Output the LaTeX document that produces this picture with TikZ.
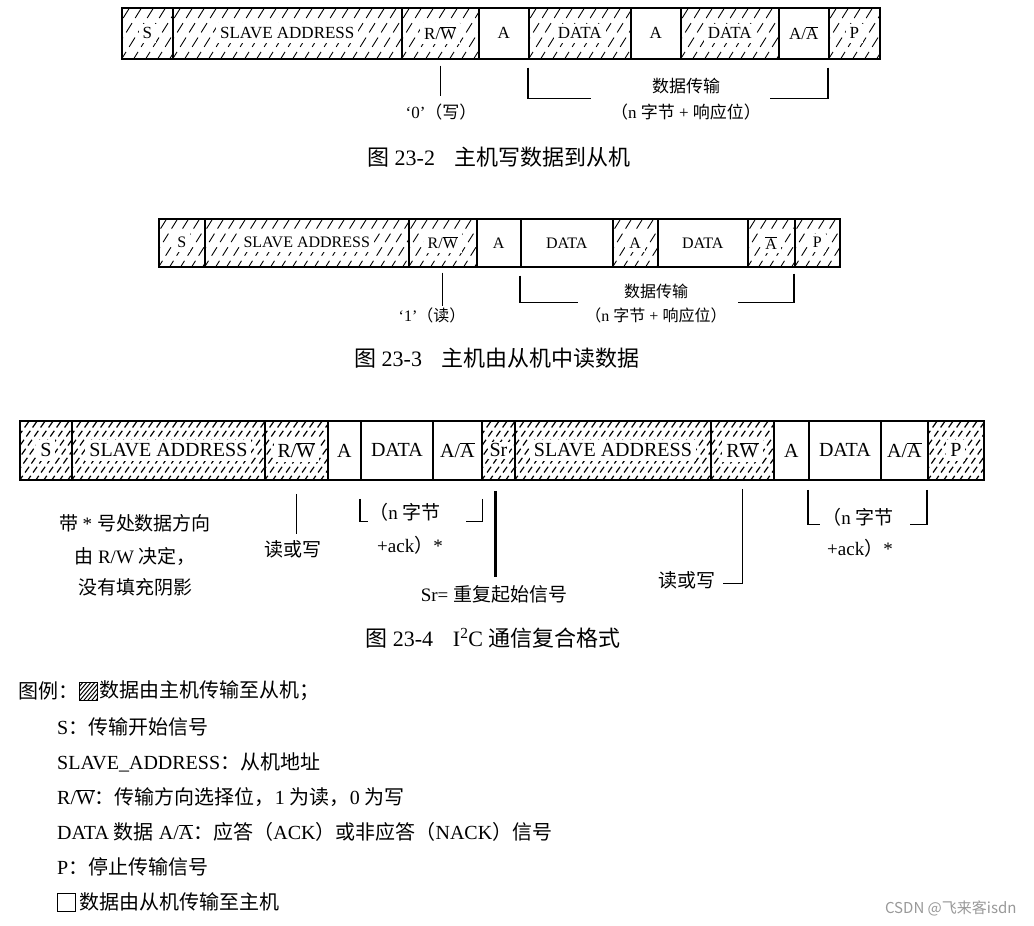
\documentclass[tikz,border=0pt]{standalone}
\usepackage{fontspec}
\setmainfont{Liberation Serif}
\newfontfamily\cjk{Noto Sans CJK SC}
\usetikzlibrary{calc}
\newcommand\zh[1]{{\cjk #1}}
\newcommand\ob[1]{\ensuremath{\overline{\mbox{#1}}}}
\newcommand\lb[1]{{\setlength\fboxsep{4pt}\colorbox{white}{#1}}}
\newcommand\seg[8]{\node[seg,#6,minimum width={(#3-#2)*1pt},minimum height={(#5-#4)*1pt},font=#7] (#1) at (#2,#4) {#8};}
\tikzset{
  seg/.style={draw,inner sep=0pt,anchor=north west},
  hlA/.style={line width=0.9pt,dash pattern=on 11pt off 6pt,dash phase=3pt},
  hlB/.style={line width=0.9pt,dash pattern=on 10pt off 6pt,dash phase=3pt},
  hlC/.style={line width=1.2pt,dash pattern=on 7pt off 4pt,dash phase=2pt},
  hA/.style={line width=1.5pt,path picture={\foreach \k in {-6,...,24}{\draw[hlA] ([xshift=\k*12pt]path picture bounding box.south west) -- ++(58:130pt);}}},
  hB/.style={line width=1.5pt,path picture={\foreach \k in {-6,...,26}{\draw[hlB] ([xshift=\k*11pt]path picture bounding box.south west) -- ++(58:130pt);}}},
  hC/.style={line width=1.8pt,path picture={\foreach \k in {-8,...,30}{\draw[hlC] ([xshift=\k*8pt]path picture bounding box.south west) -- ++(55:130pt);}}},
  hL/.style={line width=1.2pt,path picture={\foreach \k in {-6,...,8}{\draw[line width=1pt] ([xshift=\k*4pt]path picture bounding box.south west) -- ++(50:40pt);}}},
  wA/.style={line width=1.5pt},
  wB/.style={line width=1.5pt},
  wC/.style={line width=1.8pt},
  conn/.style={line width=1.2pt},
  fA/.style={font=\fontsize{17}{17}\selectfont},
  fB/.style={font=\fontsize{16}{16}\selectfont},
  fC/.style={font=\fontsize{19}{19}\selectfont},
  fCap/.style={font=\fontsize{22}{22}\selectfont},
  fL/.style={font=\fontsize{20}{20}\selectfont},
}
\begin{document}
\begin{tikzpicture}[x=1pt,y=-1pt]
\path[fill=white,use as bounding box] (0,0) rectangle (1034,926);
% ---------- Figure 23-2 ----------
\seg{d1s}{121}{172}{7}{58}{hA}{\fontsize{17}{17}\selectfont}{\lb{S}}
\seg{d1sa}{172}{401}{7}{58}{hA}{\fontsize{17}{17}\selectfont}{\lb{SLAVE ADDRESS}}
\seg{d1rw}{401}{478}{7}{58}{hA}{\fontsize{17}{17}\selectfont}{\lb{R/\ob{W}}}
\seg{d1a1}{478}{528}{7}{58}{wA}{\fontsize{17}{17}\selectfont}{A}
\seg{d1d1}{528}{630}{7}{58}{hA}{\fontsize{17}{17}\selectfont}{\lb{DATA}}
\seg{d1a2}{630}{680}{7}{58}{wA}{\fontsize{17}{17}\selectfont}{A}
\seg{d1d2}{680}{778}{7}{58}{hA}{\fontsize{17}{17}\selectfont}{\lb{DATA}}
\seg{d1aa}{778}{828}{7}{58}{wA}{\fontsize{17}{17}\selectfont}{A/\ob{A}}
\seg{d1p}{828}{879}{7}{58}{hA}{\fontsize{17}{17}\selectfont}{\lb{P}}
\draw[conn] ([yshift=-6pt]d1rw.south) -- ([yshift=-36pt]d1rw.south);
\draw[conn] ([yshift=-8pt]d1d1.south west) -- ([yshift=-39pt]d1d1.south west) -- ++(63pt,0);
\draw[conn] ([yshift=-8pt]d1p.south west) -- ([yshift=-39pt]d1p.south west) -- ++(-58pt,0);
\node[fA] (d1t0) at (441,112) {‘0’\zh{（写）}};
\node[fA] (d1t1) at (686,86) {\zh{数据传输}};
\node[fA] (d1t2) at (686,112) {\zh{（}n \zh{字节} + \zh{响应位）}};
\node[fCap] (cap1) at (499,157) {\zh{图} 23-2\hspace{0.9em}\zh{主机写数据到从机}};
% ---------- Figure 23-3 ----------
\seg{d2s}{158}{204}{218}{266}{hB}{\fontsize{16}{16}\selectfont}{\lb{S}}
\seg{d2sa}{204}{408}{218}{266}{hB}{\fontsize{16}{16}\selectfont}{\lb{SLAVE ADDRESS}}
\seg{d2rw}{408}{476}{218}{266}{hB}{\fontsize{16}{16}\selectfont}{\lb{R/\ob{W}}}
\seg{d2a1}{476}{520}{218}{266}{wB}{\fontsize{16}{16}\selectfont}{A}
\seg{d2d1}{520}{612}{218}{266}{wB}{\fontsize{16}{16}\selectfont}{DATA}
\seg{d2a2}{612}{657}{218}{266}{hB}{\fontsize{16}{16}\selectfont}{\lb{A}}
\seg{d2d2}{657}{747}{218}{266}{wB}{\fontsize{16}{16}\selectfont}{DATA}
\seg{d2na}{747}{794}{218}{266}{hB}{\fontsize{16}{16}\selectfont}{\lb{\ob{A}}}
\seg{d2p}{794}{839}{218}{266}{hB}{\fontsize{16}{16}\selectfont}{\lb{P}}
\draw[conn] ([yshift=-5pt]d2rw.south) -- ([yshift=-38pt]d2rw.south);
\draw[conn] ([yshift=-8pt]d2d1.south west) -- ([yshift=-35pt]d2d1.south west) -- ++(58pt,0);
\draw[conn] ([yshift=-6pt]d2p.south west) -- ([yshift=-35pt]d2p.south west) -- ++(-56pt,0);
\node[fB] (d2t0) at (432,315) {‘1’\zh{（读）}};
\node[fB] (d2t1) at (656,291) {\zh{数据传输}};
\node[fB] (d2t2) at (656,315) {\zh{（}n \zh{字节} + \zh{响应位）}};
\node[fCap] (cap2) at (497,358) {\zh{图} 23-3\hspace{0.9em}\zh{主机由从机中读数据}};
% ---------- Figure 23-4 ----------
\seg{d3s}{19}{71}{420}{479}{hC}{\fontsize{20}{20}\selectfont}{\lb{S}}
\seg{d3sa}{71}{264}{420}{479}{hC}{\fontsize{20}{20}\selectfont}{\lb{SLAVE ADDRESS}}
\seg{d3rw}{264}{327}{420}{479}{hC}{\fontsize{20}{20}\selectfont}{\lb{R/\ob{W}}}
\seg{d3a1}{327}{360}{420}{479}{wC}{\fontsize{20}{20}\selectfont}{A}
\seg{d3d1}{360}{432}{420}{479}{wC}{\fontsize{20}{20}\selectfont}{DATA}
\seg{d3aa}{432}{481}{420}{479}{wC}{\fontsize{20}{20}\selectfont}{A/\ob{A}}
\seg{d3sr}{481}{514}{420}{479}{hC}{\fontsize{20}{20}\selectfont}{{\setlength\fboxsep{1.5pt}\colorbox{white}{Sr}}}
\seg{d3sb}{514}{710}{420}{479}{hC}{\fontsize{20}{20}\selectfont}{\lb{SLAVE ADDRESS}}
\seg{d3rx}{710}{773}{420}{479}{hC}{\fontsize{20}{20}\selectfont}{\lb{R\ob{W}}}
\seg{d3a2}{773}{808}{420}{479}{wC}{\fontsize{20}{20}\selectfont}{A}
\seg{d3d2}{808}{880}{420}{479}{wC}{\fontsize{20}{20}\selectfont}{DATA}
\seg{d3ab}{880}{927}{420}{479}{wC}{\fontsize{20}{20}\selectfont}{A/\ob{A}}
\seg{d3p}{927}{983}{420}{479}{hC}{\fontsize{20}{20}\selectfont}{\lb{P}}
\draw[conn] ([yshift=-13pt]d3rw.south) -- ([yshift=-53pt]d3rw.south);
\draw[conn] ([yshift=-18pt]d3d1.south west) -- ([yshift=-41pt]d3d1.south west) -- ++(8pt,0);
\draw[conn] ([yshift=-18pt]d3aa.south east) -- ([yshift=-41pt]d3aa.south east) -- ++(-17pt,0);
\draw[line width=2.6pt] ([xshift=-3pt,yshift=-10pt]d3sr.south) -- ([xshift=-3pt,yshift=-96pt]d3sr.south);
\draw[conn] ([yshift=-8pt]d3rx.south) -- ([yshift=-103pt]d3rx.south) -- ++(-19pt,0);
\draw[conn] ([yshift=-9pt]d3d2.south west) -- ([yshift=-44pt]d3d2.south west) -- ++(12pt,0);
\draw[conn] ([yshift=-9pt]d3p.south west) -- ([yshift=-44pt]d3p.south west) -- ++(-17pt,0);
\node[fC] (d3n1) at (135,523) {\zh{带} * \zh{号处数据方向}};
\node[fC] (d3n2) at (135,556) {\zh{由} R/W \zh{决定，}};
\node[fC] (d3n3) at (135,587) {\zh{没有填充阴影}};
\node[fC] (d3t0) at (293,549) {\zh{读或写}};
\node[fC] (d3t1) at (405,512) {\zh{（}n \zh{字节}};
\node[fC] (d3t2) at (410,545) {+ack\zh{）}*};
\node[fC] (d3t3) at (494,594) {Sr= \zh{重复起始信号}};
\node[fC,anchor=east] (d3t4) at (719,580) {\zh{读或写}};
\node[fC] (d3t5) at (858,517) {\zh{（}n \zh{字节}};
\node[fC] (d3t6) at (860,548) {+ack\zh{）}*};
\node[fCap] (cap3) at (493,638) {\zh{图} 23-4\hspace{0.9em}I\textsuperscript{2}C \zh{通信复合格式}};
% ---------- Legend ----------
\node[fL,anchor=west,inner sep=0pt] (lg0) at (18,691) {\zh{图例：}};
\seg{lgh}{79}{97}{682}{700}{hL}{\normalsize}{}
\node[fL,anchor=west,inner sep=0pt] (lg1) at (99,691) {\zh{数据由主机传输至从机；}};
\node[fL,anchor=west,inner sep=0pt] (lg2) at (57,727) {S\zh{：传输开始信号}};
\node[fL,anchor=west,inner sep=0pt] (lg3) at (57,762) {SLAVE\_ADDRESS\zh{：从机地址}};
\node[fL,anchor=west,inner sep=0pt] (lg4) at (57,797) {R/\ob{W}\zh{：传输方向选择位，}1 \zh{为读，}0 \zh{为写}};
\node[fL,anchor=west,inner sep=0pt] (lg5) at (57,832) {DATA \zh{数据} A/\ob{A}\zh{：应答（}ACK\zh{）或非应答（}NACK\zh{）信号}};
\node[fL,anchor=west,inner sep=0pt] (lg6) at (57,867) {P\zh{：停止传输信号}};
\seg{lgw}{57}{75}{893}{911}{line width=1.2pt}{\normalsize}{}
\node[fL,anchor=west,inner sep=0pt] (lg7) at (79,902) {\zh{数据由从机传输至主机}};
% ---------- watermark ----------
\node[font=\cjk\fontsize{15}{15}\selectfont,text=black!40,anchor=east] (wm) at (1020,908) {CSDN @飞来客isdn};
\end{tikzpicture}
\end{document}
